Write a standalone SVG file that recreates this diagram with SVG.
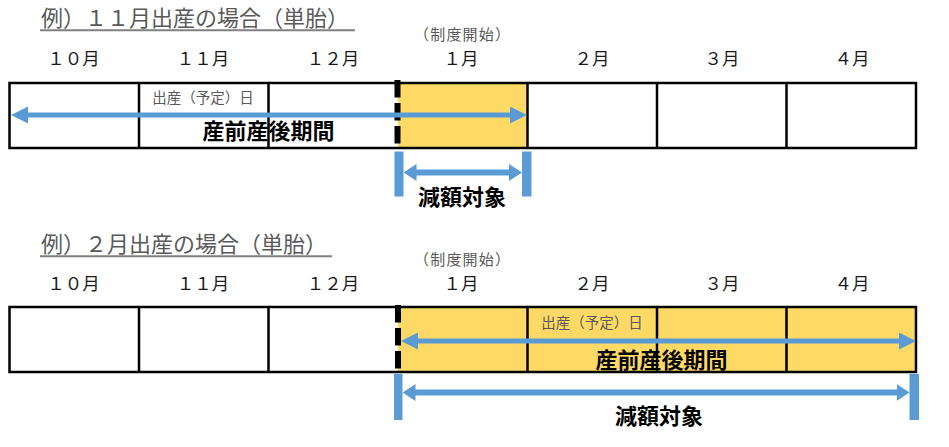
<svg xmlns="http://www.w3.org/2000/svg" width="949" height="447" viewBox="0 0 949 447">
<style>
text{font-family:"Noto Sans CJK JP","Noto Sans",sans-serif}
.title{font-size:22px;fill:#595959}
.ul{stroke:#808080;stroke-width:2}
.start{font-size:15px;letter-spacing:1.2px;fill:#595959;text-anchor:middle}
.mon{font-size:17.5px;fill:#1a1a1a;text-anchor:middle}
.small{font-size:14.5px;fill:#595959;text-anchor:middle}
.big{font-size:22px;font-weight:bold;fill:#000;text-anchor:middle}
.cw{fill:#fff}
.cy{fill:#FFD966}
.grid{stroke:#000;stroke-width:2.5;fill:none}
.dash{stroke:#000;stroke-width:6;stroke-dasharray:17.5 5.5}
.arr{stroke:#5B9BD5;stroke-width:5;fill:none}
.arr2{stroke:#5B9BD5;stroke-width:6;fill:none}
.bar{fill:#5B9BD5}
</style>
<defs>
<marker id="ab" viewBox="0 0 17 17" markerUnits="userSpaceOnUse" markerWidth="17" markerHeight="17" refX="7" refY="8.5" orient="auto-start-reverse">
<path d="M0,0 L17,8.5 L0,17 z" fill="#5B9BD5"/>
</marker>
<marker id="as" viewBox="0 0 13 17" markerUnits="userSpaceOnUse" markerWidth="13" markerHeight="17" refX="3" refY="8.5" orient="auto-start-reverse">
<path d="M0,0 L13,8.5 L0,17 z" fill="#5B9BD5"/>
</marker>
</defs>

<!-- Example 1 -->
<g id="title1">
<text class="title" x="41" y="25.5">例）１１月出産の場合（単胎）</text>
<line class="ul" x1="40" y1="30.3" x2="355" y2="30.3"/>
</g>
<g id="months1">
<text class="start" x="462.6" y="39.5">（制度開始）</text>
<text class="mon" x="73.5" y="64.5">１０月</text>
<text class="mon" x="203" y="64.5">１１月</text>
<text class="mon" x="333" y="64.5">１２月</text>
<text class="mon" x="461" y="64.5">１月</text>
<text class="mon" x="592" y="64.5">２月</text>
<text class="mon" x="722" y="64.5">３月</text>
<text class="mon" x="852" y="64.5">４月</text>
</g>
<g id="row1">
<g id="r1-oct"><rect class="cw" x="9.5" y="83" width="129.5" height="65"/></g>
<g id="r1-nov"><rect class="cw" x="139" y="83" width="129.5" height="65"/></g>
<g id="r1-dec"><rect class="cw" x="268.5" y="83" width="129.5" height="65"/></g>
<g id="r1-jan"><rect class="cy" x="398" y="83" width="129.5" height="65"/></g>
<g id="r1-feb"><rect class="cw" x="527.5" y="83" width="129.5" height="65"/></g>
<g id="r1-mar"><rect class="cw" x="657" y="83" width="129.5" height="65"/></g>
<g id="r1-apr"><rect class="cw" x="786.5" y="83" width="129.5" height="65"/></g>
<path class="grid" d="M8.25,83 H917.25 M8.25,148 H917.25 M9.5,83 V148 M139,83 V148 M268.5,83 V148 M527.5,83 V148 M657,83 V148 M786.5,83 V148 M916,83 V148"/>
<line class="dash" x1="397.5" y1="80" x2="397.5" y2="147"/>
</g>

<!-- Example 2 -->
<g id="title2">
<text class="title" x="41" y="251.5">例）２月出産の場合（単胎）</text>
<line class="ul" x1="40" y1="256.3" x2="332" y2="256.3"/>
</g>
<g id="months2">
<text class="start" x="462.6" y="265">（制度開始）</text>
<text class="mon" x="73.5" y="290">１０月</text>
<text class="mon" x="203" y="290">１１月</text>
<text class="mon" x="333" y="290">１２月</text>
<text class="mon" x="461" y="290">１月</text>
<text class="mon" x="592" y="290">２月</text>
<text class="mon" x="722" y="290">３月</text>
<text class="mon" x="852" y="290">４月</text>
</g>
<g id="row2">
<g id="r2-oct"><rect class="cw" x="9.5" y="307" width="129.5" height="65"/></g>
<g id="r2-nov"><rect class="cw" x="139" y="307" width="129.5" height="65"/></g>
<g id="r2-dec"><rect class="cw" x="268.5" y="307" width="129.5" height="65"/></g>
<g id="r2-jan"><rect class="cy" x="398" y="307" width="129.5" height="65"/></g>
<g id="r2-feb"><rect class="cy" x="527.5" y="307" width="129.5" height="65"/></g>
<g id="r2-mar"><rect class="cy" x="657" y="307" width="129.5" height="65"/></g>
<g id="r2-apr"><rect class="cy" x="786.5" y="307" width="129.5" height="65"/></g>
<path class="grid" d="M8.25,307 H917.25 M8.25,372 H917.25 M9.5,307 V372 M139,307 V372 M268.5,307 V372 M527.5,307 V372 M657,307 V372 M786.5,307 V372 M916,307 V372"/>
<line class="dash" x1="398" y1="305" x2="398" y2="371"/>
</g>

<g id="connectors">
<line class="arr" x1="21" y1="115" x2="517" y2="115" marker-start="url(#ab)" marker-end="url(#ab)"/>
<rect class="bar" x="394.5" y="151.5" width="9" height="45"/>
<rect class="bar" x="522" y="151.5" width="9.5" height="45"/>
<line class="arr2" x1="413.5" y1="172.5" x2="512" y2="172.5" marker-start="url(#as)" marker-end="url(#as)"/>

<line class="arr" x1="411" y1="341" x2="906" y2="341" marker-start="url(#ab)" marker-end="url(#ab)"/>
<rect class="bar" x="394" y="374" width="8.5" height="46"/>
<rect class="bar" x="909.5" y="374" width="9.5" height="46"/>
<line class="arr2" x1="412.5" y1="392.5" x2="899.5" y2="392.5" marker-start="url(#as)" marker-end="url(#as)"/>
</g>

<g id="labels1">
<text class="small" x="203" y="102.5">出産（予定）日</text>
<text class="big" x="268.5" y="138.5">産前産後期間</text>
<text class="big" x="462" y="205">減額対象</text>
</g>
<g id="labels2">
<text class="small" x="592" y="328">出産（予定）日</text>
<text class="big" x="661.5" y="367.5">産前産後期間</text>
<text class="big" x="659" y="424">減額対象</text>
</g>
</svg>
